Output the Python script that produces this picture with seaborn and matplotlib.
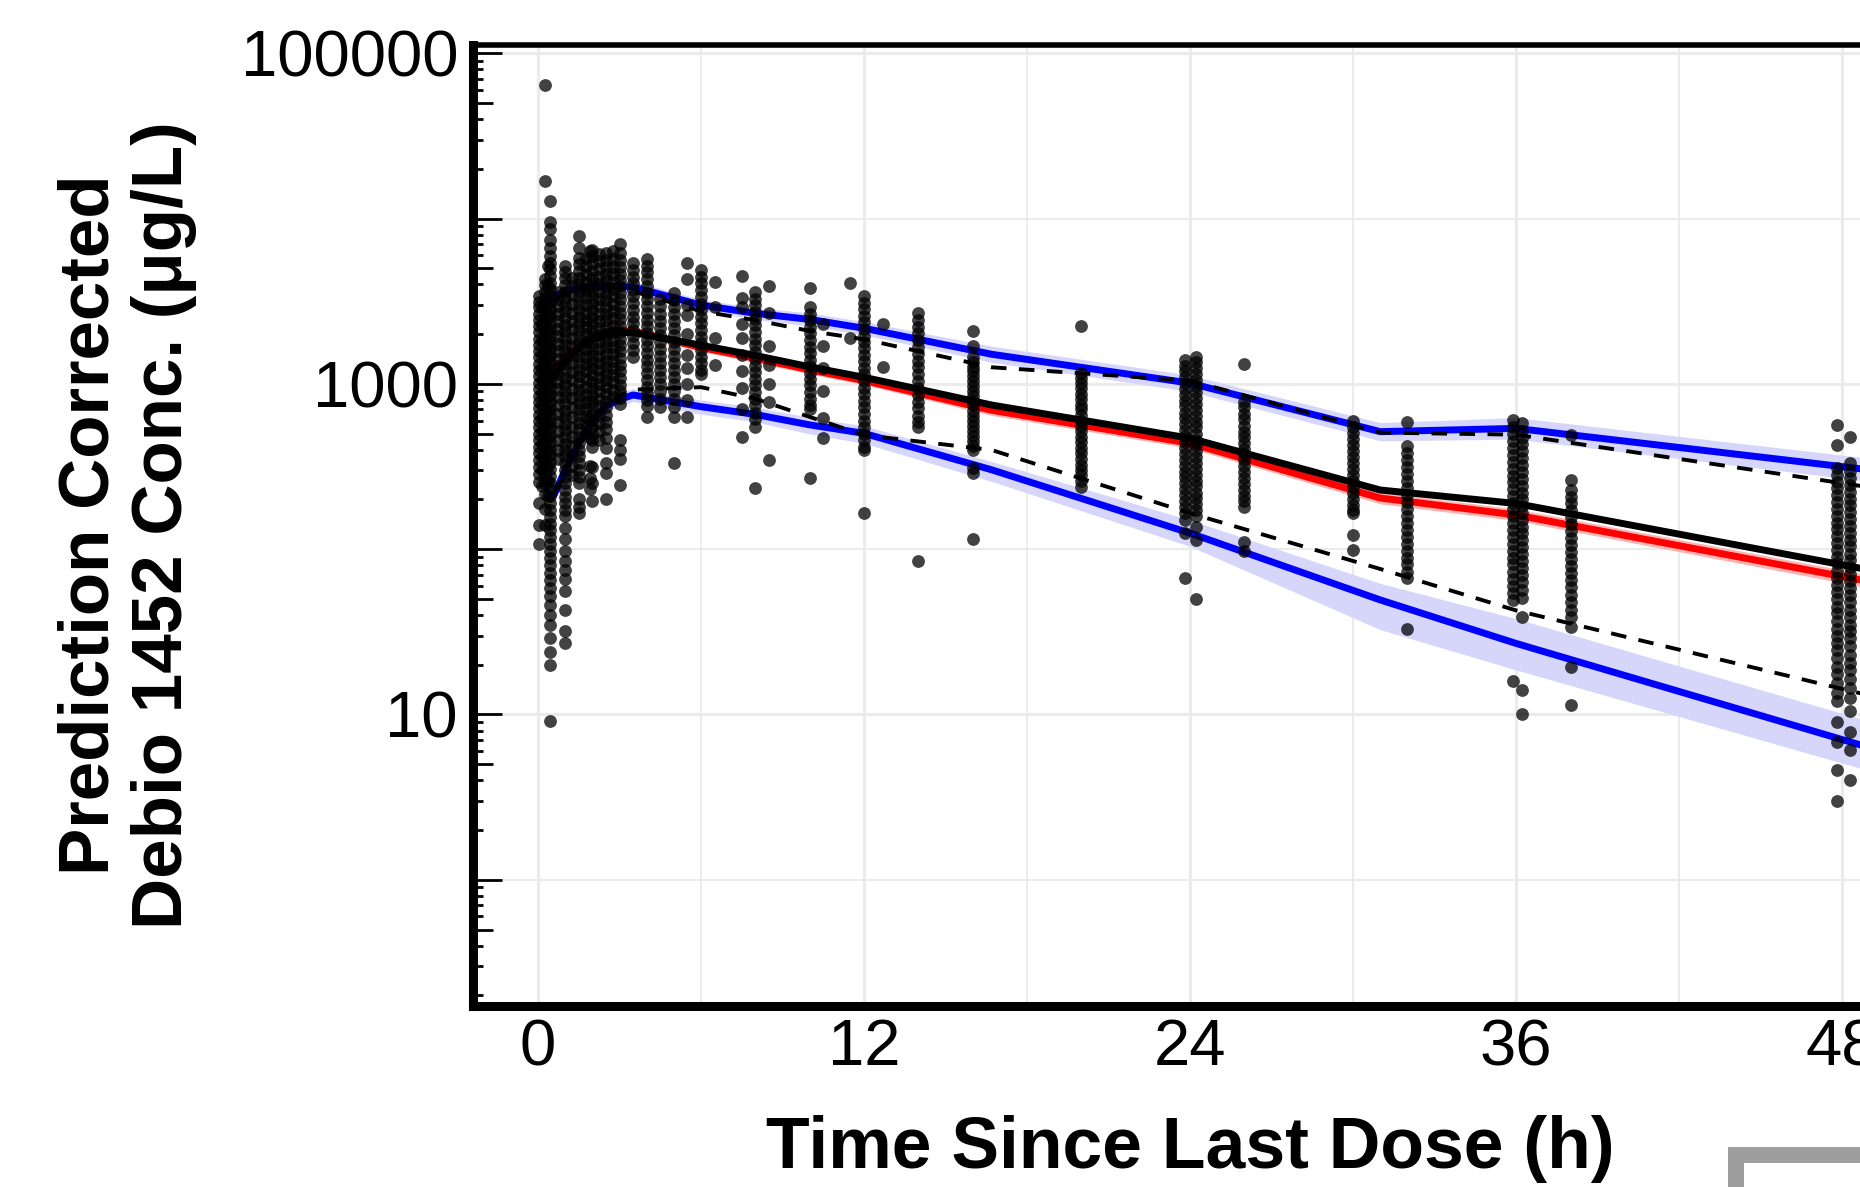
import numpy as np
import pandas as pd
import seaborn as sns
import matplotlib.pyplot as plt
from matplotlib.patches import Rectangle
from matplotlib.ticker import FixedLocator, FixedFormatter, NullFormatter

# ---- percentile lines, one value per time bin (ug/L) ----
bin_time = [0.6, 1.0, 1.5, 2.0, 2.5, 3.0, 3.5, 6.0, 8.0, 10.0, 12.0, 16.7, 24.0, 31.0, 36.0, 50.0]

obs_median = [1096, 1380, 1660, 1862, 1995, 2042, 2042, 1714, 1486, 1268, 1096, 745, 469, 228, 189, 69.7]
obs_p05 = [214, 300, 430, 595, 741, 851, 923, 955, 813, 631, 490, 398, 165, 75.9, 42.6, 11.9]
obs_p95 = [3160, 3470, 3670, 3760, 3800, 3800, 3630, 2750, 2430, 2090, 1860, 1260, 1047, 507, 493, 224]

sim_median = [1148, 1445, 1698, 1905, 2042, 2089, 2089, 1660, 1429, 1216, 1047, 692, 437, 204, 161, 59.3]
sim_median_lo = [1084, 1365, 1603, 1799, 1928, 1973, 1973, 1568, 1349, 1148, 989, 645, 408, 188, 149, 54.1]
sim_median_hi = [1216, 1530, 1798, 2017, 2162, 2212, 2212, 1758, 1513, 1288, 1109, 742, 468, 221, 175, 65.0]

sim_p05 = [214, 302, 437, 603, 733, 804, 857, 728, 653, 565, 502, 302, 125, 49.3, 26.9, 5.64]
sim_p05_lo = [195, 276, 399, 550, 669, 734, 782, 656, 589, 498, 437, 257, 104, 32.6, 18.6, 4.09]
sim_p05_hi = [235, 331, 479, 661, 803, 881, 939, 798, 724, 627, 557, 339, 150, 62.1, 38.0, 8.15]

sim_p95 = [3390, 3630, 3800, 3890, 3910, 3890, 3850, 3000, 2670, 2455, 2170, 1510, 1010, 514, 538, 289]
sim_p95_lo = [3130, 3350, 3510, 3590, 3610, 3590, 3550, 2770, 2460, 2240, 1980, 1350, 900, 453, 463, 246]
sim_p95_hi = [3670, 3930, 4120, 4220, 4240, 4220, 4170, 3250, 2890, 2690, 2380, 1690, 1130, 583, 625, 340]

# ---- observed (prediction corrected) concentrations, by sampling time ----
c_0_05 = [3400, 3150, 2900, 2650, 2450, 2250, 2050, 1880, 1720, 1580, 1450, 1320, 1210, 1110, 1010, 930,
          850, 780, 710, 650, 595, 545, 500, 455, 415, 380, 345, 315, 285, 255, 190, 140, 107]
c_0_15 = [2900, 2300, 1850, 1500, 1250, 1050, 880, 740, 620, 520, 430, 360, 300, 240]
c_0_25 = [64000, 16900, 4300, 3950, 3600, 3300, 3000, 2750, 2500, 2300, 2100, 1920, 1760, 1610, 1470,
          1350, 1230, 1130, 1030, 940, 860, 790, 720, 660, 600, 550, 500, 455, 415, 380, 345, 310, 280,
          250, 215, 175, 140]
c_0_35 = [5200, 3900, 3100, 2550, 2100, 1750, 1450, 1200, 1000, 830, 690, 570, 470, 390, 320, 260, 210]
c_0_45 = [12800, 9500, 8600, 7400, 6600, 5900, 5400, 4950, 4500, 4100, 3750, 3400, 3100, 2850, 2600,
          2350, 2150, 1960, 1790, 1630, 1490, 1360, 1240, 1130, 1030, 940, 860, 780, 710, 650, 590, 540,
          490, 445, 405, 370, 335, 305, 278, 252, 230, 209, 190, 173, 157, 143, 130, 118, 107, 97, 88,
          80, 72, 65, 58, 52, 46, 40, 35, 29, 24, 20, 9.1]
c_0_75 = [3600, 3250, 2950, 2650, 2400, 2150, 1950, 1750, 1580, 1420, 1280, 1150, 1030, 930, 830, 740,
          660, 590, 520, 460, 400, 350]
c_1_0 = [5200, 4750, 4350, 3950, 3600, 3300, 3000, 2750, 2500, 2280, 2080, 1900, 1730, 1580, 1440, 1310,
         1200, 1090, 1000, 910, 830, 760, 690, 630, 575, 525, 480, 435, 400, 365, 330, 300, 275, 250,
         228, 208, 190, 173, 158, 135, 115, 98, 85, 75, 66, 56, 43, 32, 27]
c_1_25 = [4400, 3900, 3450, 3050, 2700, 2400, 2150, 1900, 1700, 1500, 1330, 1180, 1050, 930, 820, 720,
          630, 550, 480, 420, 370, 320, 280]
c_1_5 = [7800, 6600, 5800, 5300, 4850, 4400, 4000, 3650, 3350, 3050, 2800, 2550, 2320, 2120, 1940, 1770,
         1610, 1470, 1340, 1220, 1110, 1010, 920, 840, 770, 700, 640, 580, 530, 480, 440, 400, 365, 330,
         300, 275, 250, 200, 180, 166]
c_1_75 = [5800, 5200, 4650, 4150, 3700, 3350, 3000, 2700, 2450, 2200, 2000, 1800, 1620, 1460, 1320,
          1190, 1070, 960, 860, 780, 700, 630, 560, 500]
c_1_9 = [6400, 610, 470, 320, 270, 230]
c_2_0 = [6500, 5900, 5350, 4850, 4400, 4000, 3650, 3350, 3050, 2800, 2550, 2330, 2130, 1950, 1780, 1630,
         1490, 1360, 1240, 1130, 1030, 940, 860, 790, 720, 660, 600, 550, 500, 455, 415, 316, 250, 195]
c_2_25 = [6100, 5500, 4950, 4450, 4000, 3600, 3250, 2950, 2650, 2400, 2180, 1980, 1800, 1630, 1480,
          1340, 1210, 1100, 1000, 900, 810, 730, 650, 580, 520, 455]
c_2_5 = [6200, 5600, 5100, 4650, 4250, 3850, 3500, 3200, 2900, 2650, 2420, 2200, 2000, 1820, 1660, 1510,
         1380, 1260, 1150, 1050, 960, 870, 790, 720, 650, 590, 530, 470, 410, 330, 290, 200]
c_2_75 = [6400, 5700, 5100, 4600, 4150, 3750, 3400, 3050, 2750, 2500, 2250, 2050, 1850, 1680, 1520,
          1380, 1250, 1130, 1020, 920, 830]
c_3_0 = [7000, 6200, 5600, 5100, 4650, 4250, 3900, 3550, 3250, 2950, 2700, 2470, 2250, 2050, 1880, 1720,
         1570, 1430, 1300, 1190, 1080, 990, 900, 820, 760, 457, 400, 350, 245]
c_3_5 = [5400, 4900, 4450, 4050, 3700, 3380, 3080, 2800, 2550, 2330, 2130, 1940, 1770, 1610, 1450]
c_4_0 = [5700, 5200, 4750, 4300, 3900, 3550, 3250, 2950, 2700, 2450, 2230, 2030, 1850, 1690, 1540, 1400,
         1280, 1160, 1060, 960, 880, 800, 730, 630]
c_4_5 = [3250, 2950, 2650, 2400, 2180, 1980, 1800, 1630, 1480, 1340, 1220, 1100, 1000, 900, 810, 720]
c_5_0 = [3550, 3200, 2900, 2650, 2400, 2180, 1980, 1800, 1630, 1480, 1340, 1220, 1100, 1000, 900, 810,
         720, 630, 331]
c_5_5 = [5400, 4300, 3000, 2600, 2000, 1500, 1250, 1000, 800, 630]
c_6_0 = [4900, 4450, 4050, 3700, 3350, 3050, 2800, 2550, 2320, 2120, 1930, 1760, 1600, 1460, 1330,
         1210, 1150]
c_6_5 = [4150, 2900, 1900, 1300]
c_7_5 = [4500, 3300, 2900, 2300, 1900, 1500, 1200, 950, 700, 477]
c_8_0 = [3600, 3280, 2990, 2720, 2480, 2260, 2060, 1880, 1710, 1560, 1420, 1290, 1180, 1070, 980, 890,
         810, 740, 670, 610, 550, 234]
c_8_5 = [3900, 2700, 1700, 1300, 1000, 780, 345]
c_10_0 = [3800, 2900, 2650, 2420, 2210, 2020, 1840, 1680, 1540, 1400, 1280, 1170, 1070, 980, 890, 810,
          740, 700, 270]
c_10_5 = [2300, 1700, 1250, 900, 620, 470]
c_11_5 = [4100, 1900]
c_12_0 = [3400, 3100, 2830, 2580, 2360, 2150, 1960, 1790, 1640, 1500, 1370, 1250, 1140, 1040, 950, 870,
          790, 720, 660, 600, 550, 500, 455, 415, 400, 166]
c_12_7 = [2300, 1260]
c_14_0 = [2700, 2450, 2220, 2020, 1840, 1670, 1520, 1380, 1260, 1140, 1040, 950, 860, 780, 710, 640,
          590, 550, 85]
c_16_0 = [2100, 1700, 1450, 1360, 1270, 1190, 1110, 1040, 970, 910, 850, 790, 740, 690, 640, 600, 560,
          520, 485, 450, 420, 400, 310, 290, 115]
c_20_0 = [2240, 1160, 1080, 1010, 940, 870, 810, 750, 700, 650, 600, 560, 520, 480, 445, 410, 380, 350,
          325, 300, 280, 260, 239]
c_23_8 = [1400, 1290, 1190, 1100, 1010, 930, 860, 790, 730, 670, 620, 570, 525, 485, 445, 410, 378, 348,
          320, 295, 272, 250, 230, 212, 195, 180, 165, 150, 125, 67]
c_24_2 = [1460, 1350, 1240, 1140, 1050, 970, 890, 820, 755, 695, 640, 590, 545, 500, 460, 425, 392, 360,
          332, 306, 282, 260, 240, 220, 203, 187, 172, 158, 137, 114, 50]
c_26_0 = [1310, 780, 720, 660, 610, 560, 515, 475, 440, 405, 375, 345, 318, 293, 270, 248, 228, 210, 195,
          180, 111, 97]
c_30_0 = [600, 550, 505, 465, 428, 394, 362, 333, 306, 282, 260, 239, 220, 202, 186, 172, 165, 122, 99]
c_32_0 = [590, 420, 380, 345, 313, 284, 258, 234, 212, 193, 175, 159, 144, 131, 119, 108, 98, 89, 81, 73,
          67, 33]
c_35_9 = [604, 545, 495, 450, 410, 372, 338, 307, 279, 254, 231, 210, 191, 174, 158, 144, 131, 119, 108,
          98, 89, 81, 73, 66, 60, 54, 49, 16]
c_36_2 = [580, 520, 472, 430, 390, 355, 322, 293, 266, 242, 220, 200, 182, 166, 151, 137, 125, 113, 103,
          93, 85, 77, 70, 63, 57, 51, 39, 14, 10]
c_38_0 = [491, 262, 229, 208, 189, 172, 156, 142, 129, 117, 106, 96, 87, 79, 72, 65, 59, 53, 48, 43, 39,
          34, 19.5, 11.4]
c_47_8 = [564, 427, 310, 282, 256, 233, 212, 193, 175, 159, 145, 132, 120, 109, 99, 90, 82, 74, 67, 61,
          55, 50, 45, 41, 37, 33, 30, 27, 24.5, 22, 19.5, 17.5, 15.5, 13.5, 12, 9, 6.8, 4.6, 3.0]
c_48_3 = [479, 330, 296, 269, 245, 222, 202, 184, 167, 152, 138, 126, 114, 104, 94, 86, 78, 71, 64, 58,
          53, 48, 43, 39, 35, 32, 29, 26, 23, 20.5, 18.5, 16.5, 14.5, 12.5, 10.5, 7.8, 6.1, 4.0]

obs_columns = [
    (0.05, c_0_05), (0.15, c_0_15), (0.25, c_0_25), (0.35, c_0_35), (0.45, c_0_45), (0.75, c_0_75),
    (1.0, c_1_0), (1.25, c_1_25), (1.5, c_1_5), (1.75, c_1_75), (1.9, c_1_9), (2.0, c_2_0),
    (2.25, c_2_25), (2.5, c_2_5), (2.75, c_2_75), (3.0, c_3_0), (3.5, c_3_5), (4.0, c_4_0),
    (4.5, c_4_5), (5.0, c_5_0), (5.5, c_5_5), (6.0, c_6_0), (6.5, c_6_5), (7.5, c_7_5), (8.0, c_8_0),
    (8.5, c_8_5), (10.0, c_10_0), (10.5, c_10_5), (11.5, c_11_5), (12.0, c_12_0), (12.7, c_12_7),
    (14.0, c_14_0), (16.0, c_16_0), (20.0, c_20_0), (23.8, c_23_8), (24.2, c_24_2), (26.0, c_26_0),
    (30.0, c_30_0), (32.0, c_32_0), (35.9, c_35_9), (36.2, c_36_2), (38.0, c_38_0), (47.8, c_47_8),
    (48.3, c_48_3),
]

obs = pd.DataFrame([(t, c) for t, vals in obs_columns for c in vals], columns=["time", "conc"])
lines = pd.DataFrame({"time": bin_time, "obs_median": obs_median, "obs_p05": obs_p05,
                      "obs_p95": obs_p95, "sim_median": sim_median, "sim_p05": sim_p05,
                      "sim_p95": sim_p95})

sns.set_style("white")
plt.rcParams["font.family"] = ["Liberation Sans", "DejaVu Sans"]
plt.rcParams["text.color"] = "black"

W, H = 1860, 1187
fig = plt.figure(figsize=(W / 100, H / 100), dpi=100)
# axes box in pixels: left 473, right 1902 (runs past the picture), top 44.5, bottom 1006
ax = fig.add_axes([473 / W, (H - 1006) / H, (1902 - 473) / W, (1006 - 44.5) / H])
ax.set_yscale("log")
ax.set_xlim(-2.392, 50.2)
ax.set_ylim(0.1724, 113000)

# simulated confidence bands
ax.fill_between(bin_time, sim_p95_lo, sim_p95_hi, color="#d6d6fb", linewidth=0, zorder=1)
ax.fill_between(bin_time, sim_p05_lo, sim_p05_hi, color="#d6d6fb", linewidth=0, zorder=1)
ax.fill_between(bin_time, sim_median_lo, sim_median_hi, color="#ffb3b3", linewidth=0, zorder=1)

lw = 5.0
sns.lineplot(data=lines, x="time", y="sim_p95", color="#0000ff", lw=lw, ax=ax, zorder=2)
sns.lineplot(data=lines, x="time", y="sim_p05", color="#0000ff", lw=lw, ax=ax, zorder=2)
sns.lineplot(data=lines, x="time", y="sim_median", color="#ff0000", lw=lw, ax=ax, zorder=2)
sns.lineplot(data=lines, x="time", y="obs_median", color="black", lw=lw, ax=ax, zorder=2.2)
sns.lineplot(data=lines, x="time", y="obs_p95", color="black", lw=2.8,
             linestyle=(0, (4.0, 3.2)), ax=ax, zorder=2.2)
sns.lineplot(data=lines, x="time", y="obs_p05", color="black", lw=2.8,
             linestyle=(0, (4.0, 3.2)), ax=ax, zorder=2.2)

sns.scatterplot(data=obs, x="time", y="conc", color="black", alpha=0.74, s=85,
                linewidth=0, ax=ax, zorder=3)

# axes, ticks, grid
ax.xaxis.set_major_locator(FixedLocator([0, 12, 24, 36, 48]))
ax.xaxis.set_minor_locator(FixedLocator([6, 18, 30, 42]))
ax.yaxis.set_major_locator(FixedLocator([10, 1000, 100000]))
ax.yaxis.set_major_formatter(FixedFormatter(["10", "1000", "100000"]))
ax.yaxis.set_minor_locator(FixedLocator([1, 100, 10000]))
ax.yaxis.set_minor_formatter(NullFormatter())
ax.tick_params(which="major", direction="out", length=3.8, width=1.3, color="#333333",
               labelsize=47, labelcolor="black")
ax.tick_params(axis="x", which="major", pad=5)
ax.tick_params(axis="y", which="major", pad=7)
ax.tick_params(which="minor", length=0)
ax.grid(which="major", color="#ebebeb", linewidth=2.2)
ax.grid(which="minor", color="#ebebeb", linewidth=1.4)
ax.set_axisbelow(True)
ax.set_xlabel("")
ax.set_ylabel("")

for side in ["left", "bottom"]:
    ax.spines[side].set_linewidth(6.5)
    ax.spines[side].set_color("black")
ax.spines["top"].set_linewidth(4)
ax.spines["top"].set_color("black")
ax.spines["right"].set_visible(False)

# log ticks drawn inside the panel along the y axis
ytr = ax.get_yaxis_transform()
for k in range(-1, 6):
    for m in range(1, 10):
        v = m * 10.0 ** k
        if v < 0.1724 or v > 113000:
            continue
        L = 0.0203 if m == 1 else (0.0140 if m == 5 else 0.0072)
        ax.plot([0, L], [v, v], transform=ytr, color="black", lw=2.0,
                solid_capstyle="butt", zorder=4)

fig.text(1190 / W, 19 / H, "Time Since Last Dose (h)", ha="center", va="baseline",
         fontsize=51.5, fontweight="bold", color="black")
fig.text(127.5 / W, 1 - 525 / H, "Prediction Corrected\nDebio 1452 Conc. (\u03bcg/L)",
         rotation=90, ha="center", va="center", multialignment="center",
         fontsize=51, fontweight="bold", linespacing=1.15, color="black")

# grey frame of the legend box peeking in at the lower right
fig.add_artist(Rectangle((1736 / W, -0.2), 0.3, 0.2 + 32 / H, transform=fig.transFigure,
                         fill=False, edgecolor="#9e9e9e", linewidth=11.5, clip_on=False))

fig.savefig("out.png", dpi=100)
